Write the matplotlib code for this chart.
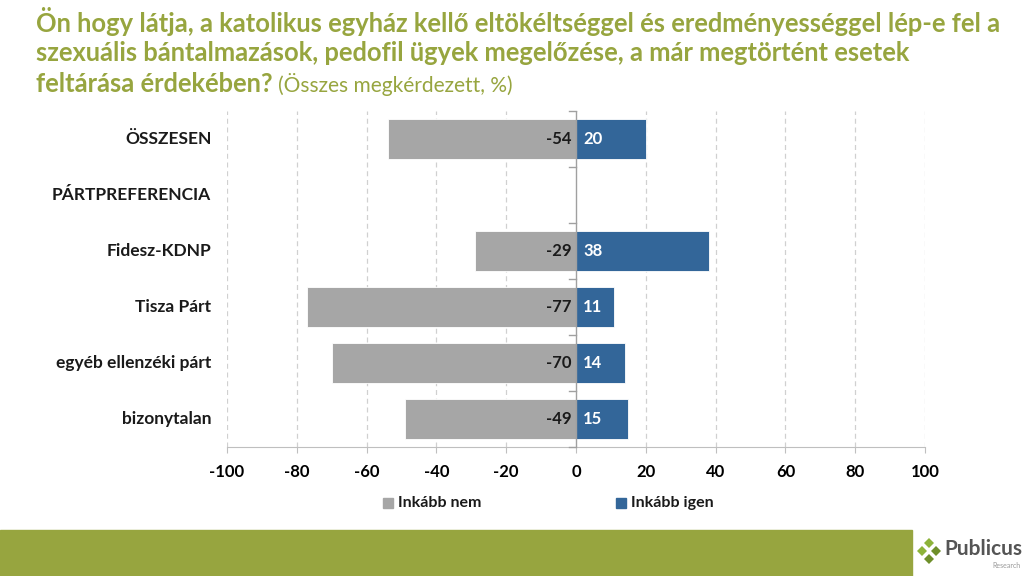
import matplotlib.pyplot as plt
from matplotlib.patches import Rectangle, Polygon

plt.rcParams['font.family'] = ['Lato', 'DejaVu Sans']

categories = ["ÖSSZESEN", "PÁRTPREFERENCIA", "Fidesz-KDNP", "Tisza Párt",
              "egyéb ellenzéki párt", "bizonytalan"]
nem = [-54, None, -29, -77, -70, -49]
igen = [20, None, 38, 11, 14, 15]
series_names = ["Inkább nem", "Inkább igen"]
xticks = [-100, -80, -60, -40, -20, 0, 20, 40, 60, 80, 100]

GRAY = "#A6A6A6"
BLUE = "#336699"
GREEN = "#97A53F"

fig = plt.figure(figsize=(10.24, 5.76), dpi=100)
ax = fig.add_axes([0.2217, 0.224, 0.6816, 0.583])

ypos = list(range(len(categories)))
for y, n, i in zip(ypos, nem, igen):
    if n is None:
        continue
    ax.barh(y, n, height=0.72, color=GRAY, edgecolor="white", linewidth=0.6, zorder=3)
    ax.barh(y, i, height=0.72, color=BLUE, edgecolor="white", linewidth=0.6, zorder=3)
    ax.text(-1.2, y, str(n), ha="right", va="center", fontsize=12,
            fontweight="bold", color="#1a1a1a", zorder=4)
    ax.text(2, y, str(i), ha="left", va="center", fontsize=12,
            fontweight="bold", color="white", zorder=4)

ax.set_xlim(-100, 100)
ax.set_ylim(len(categories) - 0.5, -0.5)
ax.set_xticks(xticks)
ax.set_xticklabels([str(t) for t in xticks], fontsize=12, fontweight="bold")
ax.tick_params(axis="x", length=4, color="#BFBFBF", pad=8)
ax.set_yticks([])

# dashed grid (skip zero, it has the solid axis)
for t in xticks:
    if t != 0:
        ax.axvline(t, color="#D0D0D0", linestyle=(0, (4, 3)), linewidth=0.9, zorder=1)

for s in ["top", "right", "left"]:
    ax.spines[s].set_visible(False)
ax.spines["bottom"].set_color("#BFBFBF")

# center axis with category-boundary ticks
ax.axvline(0, color="#A0A0A0", linewidth=1.0, zorder=5)
for b in range(len(categories) + 1):
    ax.plot([-2, 0], [b - 0.5, b - 0.5], color="#A0A0A0", linewidth=1.0,
            zorder=5, clip_on=False)

# category labels
for y, c in zip(ypos, categories):
    ax.text(-104.5, y, c, ha="right", va="center", fontsize=12.5,
            fontweight="bold", color="#1a1a1a")

# legend
fig.patches.append(Rectangle((383 / 1024, 1 - 508 / 576), 10 / 1024, 10 / 576,
                             transform=fig.transFigure, color=GRAY))
fig.text(398 / 1024, 1 - 503 / 576, series_names[0], fontsize=11.5,
         fontweight="bold", va="center", color="#1a1a1a")
fig.patches.append(Rectangle((616 / 1024, 1 - 508 / 576), 10 / 1024, 10 / 576,
                             transform=fig.transFigure, color=BLUE))
fig.text(631 / 1024, 1 - 503 / 576, series_names[1], fontsize=11.5,
         fontweight="bold", va="center", color="#1a1a1a")

# title
title_lines = [
    "Ön hogy látja, a katolikus egyház kellő eltökéltséggel és eredményességgel lép-e fel a",
    "szexuális bántalmazások, pedofil ügyek megelőzése, a már megtörtént esetek",
]
for k, line in enumerate(title_lines):
    fig.text(36 / 1024, 1 - (22 + 31 * k) / 576, line, fontsize=18.4,
             fontweight="bold", color=GREEN, va="center")
t3 = fig.text(36 / 1024, 1 - 84 / 576, "feltárása érdekében?", fontsize=18.4,
              fontweight="bold", color=GREEN, va="center")
fig.canvas.draw()
bb = t3.get_window_extent()
fig.text(bb.x1 / 1024 + 5 / 1024, 1 - 85 / 576, "(Összes megkérdezett, %)",
         fontsize=15, color=GREEN, va="center")

# bottom band
fig.patches.append(Rectangle((0, 0), 912 / 1024, 46 / 576,
                             transform=fig.transFigure, color=GREEN))

# logo
def diamond(cx, cy, r, color):
    pts = [(cx, cy + r), (cx + r, cy), (cx, cy - r), (cx - r, cy)]
    pts = [(x / 1024, 1 - y / 576) for x, y in pts]
    fig.patches.append(Polygon(pts, closed=True, transform=fig.transFigure,
                               facecolor=color, edgecolor="none"))

diamond(929, 543, 5, "#8DB33A")
diamond(936, 551, 5, "#6E8F2A")
diamond(922, 551, 5, "#8DB33A")
diamond(929, 559, 5, "#6E8F2A")
fig.text(944 / 1024, 1 - 549 / 576, "Publicus", fontsize=15, fontweight="bold",
         color="#555555", va="center")
fig.text(1021 / 1024, 1 - 565 / 576, "Research", fontsize=5, color="#999999",
         ha="right", va="center")

fig.savefig("out.png", dpi=100)
